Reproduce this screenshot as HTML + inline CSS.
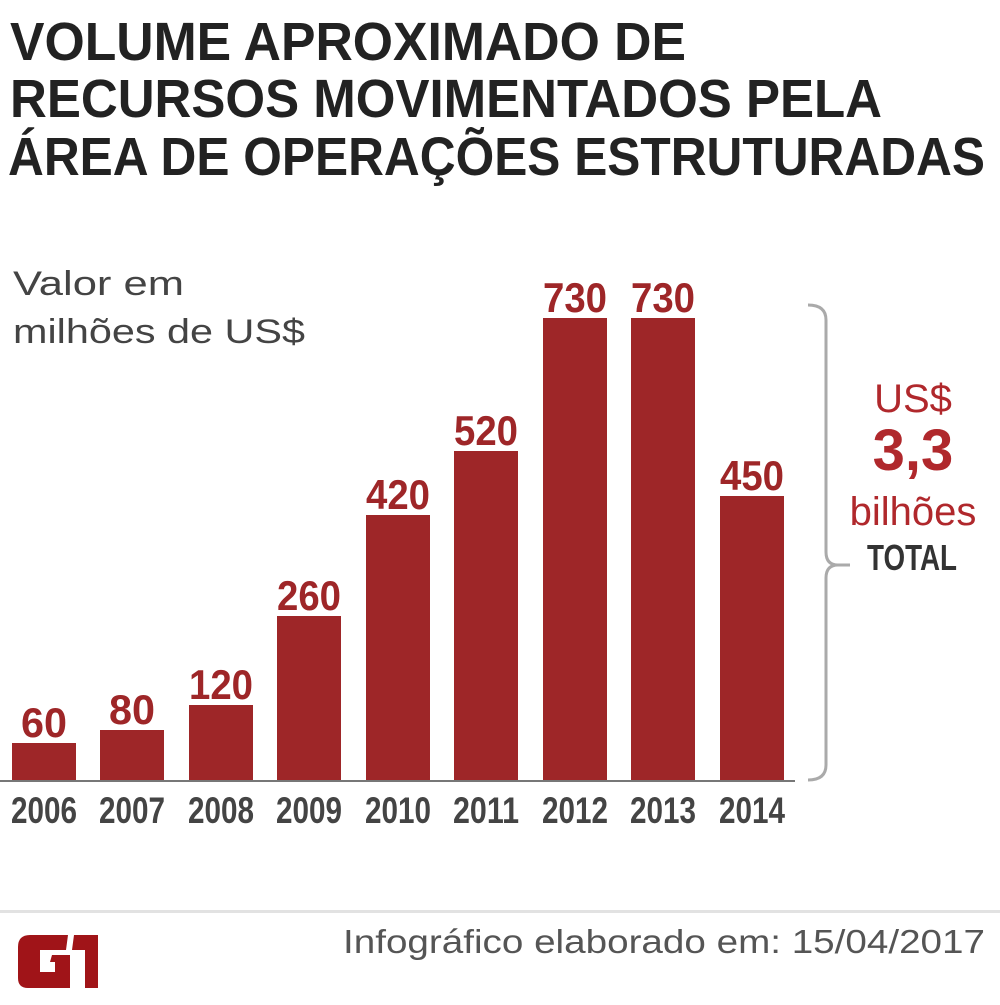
<!DOCTYPE html>
<html><head><meta charset="utf-8"><style>
html,body{margin:0;padding:0;background:#fff;}
svg{display:block;}
text{font-family:"Liberation Sans",sans-serif;}
</style></head><body>
<svg width="1000" height="1005" viewBox="0 0 1000 1005" xmlns="http://www.w3.org/2000/svg">
<rect width="1000" height="1005" fill="#fff"/>
<g fill="#222" font-weight="bold" font-size="54">
<text x="10" y="60" textLength="676" lengthAdjust="spacingAndGlyphs">VOLUME APROXIMADO DE</text>
<text x="10" y="117" textLength="872" lengthAdjust="spacingAndGlyphs">RECURSOS MOVIMENTADOS PELA</text>
<text x="8" y="175" textLength="977" lengthAdjust="spacingAndGlyphs">ÁREA DE OPERAÇÕES ESTRUTURADAS</text>
</g>
<g fill="#444" font-size="34">
<text x="13" y="295" textLength="171" lengthAdjust="spacingAndGlyphs">Valor em</text>
<text x="13" y="343" textLength="292" lengthAdjust="spacingAndGlyphs">milhões de US$</text>
</g>
<g fill="#9e2628">
<rect x="12" y="743" width="64" height="38"/>
<rect x="100" y="730" width="64" height="51"/>
<rect x="189" y="705" width="64" height="76"/>
<rect x="277" y="616" width="64" height="165"/>
<rect x="366" y="515" width="64" height="266"/>
<rect x="454" y="451" width="64" height="330"/>
<rect x="543" y="318" width="64" height="463"/>
<rect x="631" y="318" width="64" height="463"/>
<rect x="720" y="496" width="64" height="285"/>
</g>
<line x1="0" y1="781" x2="795" y2="781" stroke="#777" stroke-width="2"/>
<g fill="#9e2628" font-weight="bold" font-size="42" text-anchor="middle">
<text x="44" y="737" textLength="46" lengthAdjust="spacingAndGlyphs">60</text>
<text x="132" y="724" textLength="46" lengthAdjust="spacingAndGlyphs">80</text>
<text x="221" y="699" textLength="64" lengthAdjust="spacingAndGlyphs">120</text>
<text x="309" y="610" textLength="64" lengthAdjust="spacingAndGlyphs">260</text>
<text x="398" y="509" textLength="64" lengthAdjust="spacingAndGlyphs">420</text>
<text x="486" y="445" textLength="64" lengthAdjust="spacingAndGlyphs">520</text>
<text x="575" y="312" textLength="64" lengthAdjust="spacingAndGlyphs">730</text>
<text x="663" y="312" textLength="64" lengthAdjust="spacingAndGlyphs">730</text>
<text x="752" y="490" textLength="64" lengthAdjust="spacingAndGlyphs">450</text>
</g>
<g fill="#444" font-weight="bold" font-size="37" text-anchor="middle">
<text x="44" y="823" textLength="66" lengthAdjust="spacingAndGlyphs">2006</text>
<text x="132" y="823" textLength="66" lengthAdjust="spacingAndGlyphs">2007</text>
<text x="221" y="823" textLength="66" lengthAdjust="spacingAndGlyphs">2008</text>
<text x="309" y="823" textLength="66" lengthAdjust="spacingAndGlyphs">2009</text>
<text x="398" y="823" textLength="66" lengthAdjust="spacingAndGlyphs">2010</text>
<text x="486" y="823" textLength="66" lengthAdjust="spacingAndGlyphs">2011</text>
<text x="575" y="823" textLength="66" lengthAdjust="spacingAndGlyphs">2012</text>
<text x="663" y="823" textLength="66" lengthAdjust="spacingAndGlyphs">2013</text>
<text x="752" y="823" textLength="66" lengthAdjust="spacingAndGlyphs">2014</text>
</g>
<path d="M808 305 Q826 305 826 320 L826 552 Q826 565 838 565 L850 565 M838 565 Q826 565 826 578 L826 765 Q826 780 808 780" fill="none" stroke="#aaa" stroke-width="3"/>
<g fill="#b0282c" text-anchor="middle">
<text x="913" y="412" font-size="40">US$</text>
<text x="913" y="470" font-size="58" font-weight="bold">3,3</text>
<text x="913" y="525" font-size="40">bilhões</text>
</g>
<text x="912" y="570" fill="#333" font-weight="bold" font-size="36" text-anchor="middle" textLength="90" lengthAdjust="spacingAndGlyphs">TOTAL</text>
<rect x="0" y="910" width="1000" height="3" fill="#e2e2e2"/>
<g fill="#a01418">
<path d="M30 935 L68 935 L66 950 L40 950 L40 972 L55 972 L55 962 L50 962 L52 955 L70 955 L70 988 L28 988 Q18 988 18 978 L18 947 Q18 935 30 935Z"/>
<path d="M74 935 L98 935 L98 988 L85 988 L85 950 L72 950Z"/>
</g>
<text x="985" y="953" fill="#555" font-size="33" text-anchor="end" textLength="642" lengthAdjust="spacingAndGlyphs">Infográfico elaborado em: 15/04/2017</text>
</svg>
</body></html>
